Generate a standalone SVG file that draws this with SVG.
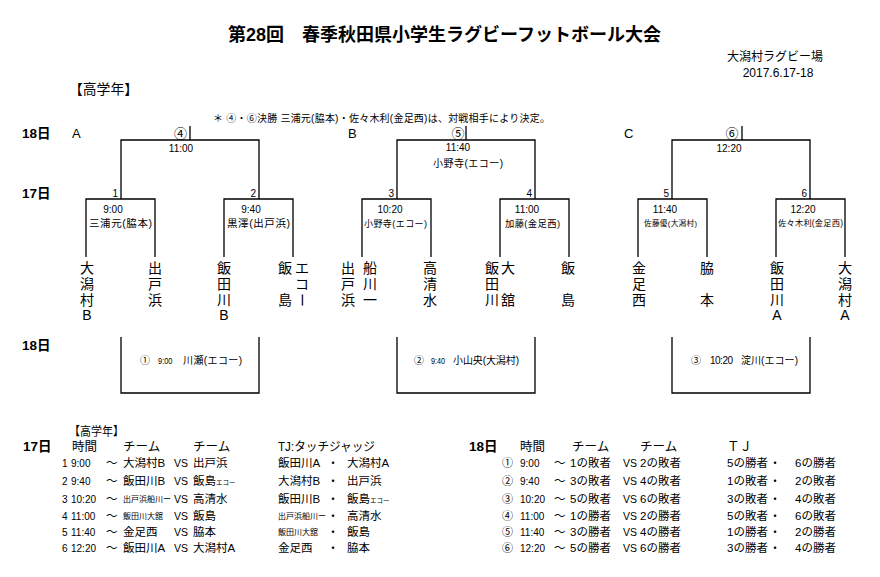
<svg xmlns="http://www.w3.org/2000/svg" width="880" height="577" viewBox="0 0 880 577">
<style>
text{font-family:"Liberation Sans","Noto Sans CJK JP",sans-serif;fill:#000}
.ttl{font-size:18px;font-weight:bold}
.b{font-weight:bold;font-size:13.5px}
.m{font-size:12px}
.s{font-size:10px}
.xs{font-size:8px}
.xxs{font-size:6.5px}
.v{font-size:14px;text-anchor:middle}
.c{text-anchor:middle}
.ln{stroke:#000;stroke-width:1.3;fill:none}
</style>
<rect width="880" height="577" fill="#fff"/>
<g id="header">
<text class="ttl" x="228" y="41">第28回　春季秋田県小学生ラグビーフットボール大会</text>
<text class="m c" x="775" y="60.5">大潟村ラグビー場</text>
<text class="m c" x="778" y="77">2017.6.17-18</text>
<text x="69" y="94" style="font-size:14px" textLength="69" lengthAdjust="spacingAndGlyphs">【高学年】</text>
<text class="s" x="213" y="122" textLength="337" lengthAdjust="spacing">＊ ④・⑥決勝 三浦元(脇本)・佐々木利(金足西)は、対戦相手により決定。</text>
<text class="b" x="22" y="138">18日</text>
<text class="b" x="22" y="198">17日</text>
<text class="b" x="22" y="350">18日</text>
<text class="m" x="72" y="138" style="font-size:13px">A</text>
<text class="m" x="348" y="138" style="font-size:13px">B</text>
<text class="m" x="624" y="138" style="font-size:13px">C</text>
</g>
<g id="connectors" class="ln">
<path d="M190,126V140M121,199V140H259V199M86,257V199H155V257M224,257V199H293V257"/>
<path d="M466,126V140M397,199V140H535V199M362,257V199H431V257M500,257V199H569V257"/>
<path d="M742,126V140M672,199V140H810V199M638,257V199H707V257M776,257V199H845V257"/>
<path d="M121,337V393H259V337"/>
<path d="M397,337V393H535V337"/>
<path d="M672,337V393H810V337"/>
</g>
<g id="final-4">
<text class="c" x="180.5" y="138" style="font-size:13px">④</text>
<text class="s c" x="181" y="152">11:00</text>
</g>
<g id="final-5">
<text class="c" x="458" y="138" style="font-size:13px">⑤</text>
<text class="s c" x="458" y="151">11:40</text>
<text x="433" y="167" style="font-size:10px" textLength="70" lengthAdjust="spacing">小野寺(エコー)</text>
</g>
<g id="final-6">
<text class="c" x="732" y="138" style="font-size:13px">⑥</text>
<text class="s c" x="729" y="152">12:20</text>
</g>
<g id="match-1">
<text class="s" x="118" y="197" text-anchor="end">1</text>
<text class="s c" x="113" y="213">9:00</text>
<text x="89" y="227" style="font-size:10.5px" textLength="63" lengthAdjust="spacing">三浦元(脇本)</text>
</g>
<g id="match-2">
<text class="s" x="256" y="197" text-anchor="end">2</text>
<text class="s c" x="251" y="213">9:40</text>
<text x="227" y="227" style="font-size:10.5px" textLength="63" lengthAdjust="spacing">黒澤(出戸浜)</text>
</g>
<g id="match-3">
<text class="s" x="394" y="197" text-anchor="end">3</text>
<text class="s c" x="390" y="213">10:20</text>
<text x="364" y="226.5" style="font-size:9px" textLength="63" lengthAdjust="spacing">小野寺(エコー)</text>
</g>
<g id="match-4">
<text class="s" x="532" y="197" text-anchor="end">4</text>
<text class="s c" x="527" y="213">11:00</text>
<text x="505" y="226.5" style="font-size:9.3px" textLength="55" lengthAdjust="spacing">加藤(金足西)</text>
</g>
<g id="match-5">
<text class="s" x="669" y="197" text-anchor="end">5</text>
<text class="s c" x="665" y="213">11:40</text>
<text x="644" y="226" style="font-size:7.6px" textLength="53" lengthAdjust="spacing">佐藤優(大潟村)</text>
</g>
<g id="match-6">
<text class="s" x="807" y="197" text-anchor="end">6</text>
<text class="s c" x="803" y="213">12:20</text>
<text x="778" y="226" style="font-size:8.2px" textLength="65" lengthAdjust="spacing">佐々木利(金足西)</text>
</g>
<g id="team-ogatamura-b"><text class="v" x="87" y="273">大</text><text class="v" x="87" y="289">潟</text><text class="v" x="87" y="305">村</text><text class="v" x="87" y="320">B</text></g>
<g id="team-dotohama"><text class="v" x="155" y="273">出</text><text class="v" x="155" y="289">戸</text><text class="v" x="155" y="305">浜</text></g>
<g id="team-iidagawa-b"><text class="v" x="224" y="273">飯</text><text class="v" x="224" y="289">田</text><text class="v" x="224" y="305">川</text><text class="v" x="224" y="320">B</text></g>
<g id="team-iijima-eko"><text class="v" x="285" y="273">飯</text><text class="v" x="285" y="305">島</text><text class="v" x="302" y="273">エ</text><text class="v" x="302" y="289">コ</text><text class="v" x="302" y="305" transform="rotate(90 302 300)">ー</text></g>
<g id="team-dotohama-funakawa"><text class="v" x="348" y="273">出</text><text class="v" x="348" y="289">戸</text><text class="v" x="348" y="305">浜</text><text class="v" x="370" y="273">船</text><text class="v" x="370" y="289">川</text><text class="v" x="370" y="305">一</text></g>
<g id="team-takashimizu"><text class="v" x="430" y="273">高</text><text class="v" x="430" y="289">清</text><text class="v" x="430" y="305">水</text></g>
<g id="team-iidagawa-odate"><text class="v" x="492" y="273">飯</text><text class="v" x="492" y="289">田</text><text class="v" x="492" y="305">川</text><text class="v" x="508" y="273">大</text><text class="v" x="508" y="305">舘</text></g>
<g id="team-iijima"><text class="v" x="568" y="273">飯</text><text class="v" x="568" y="305">島</text></g>
<g id="team-kanaashinishi"><text class="v" x="639" y="273">金</text><text class="v" x="639" y="289">足</text><text class="v" x="639" y="305">西</text></g>
<g id="team-wakimoto"><text class="v" x="707" y="273">脇</text><text class="v" x="707" y="305">本</text></g>
<g id="team-iidagawa-a"><text class="v" x="777" y="273">飯</text><text class="v" x="777" y="289">田</text><text class="v" x="777" y="305">川</text><text class="v" x="777" y="320">A</text></g>
<g id="team-ogatamura-a"><text class="v" x="845" y="273">大</text><text class="v" x="845" y="289">潟</text><text class="v" x="845" y="305">村</text><text class="v" x="845" y="320">A</text></g>
<g id="placement-1" class="s">
<text x="140" y="364">①</text><text x="158" y="363.5" style="font-size:9px" textLength="14.5" lengthAdjust="spacingAndGlyphs">9:00</text><text x="183" y="364" textLength="59" lengthAdjust="spacing">川瀬(エコー)</text>
</g>
<g id="placement-2" class="s">
<text x="414" y="364">②</text><text x="431" y="363.5" style="font-size:9px" textLength="14" lengthAdjust="spacingAndGlyphs">9:40</text><text x="453" y="364" textLength="66" lengthAdjust="spacing">小山央(大潟村)</text>
</g>
<g id="placement-3" class="s">
<text x="691" y="364">③</text><text x="710" y="364" textLength="23" lengthAdjust="spacing">10:20</text><text x="741" y="364" textLength="57" lengthAdjust="spacing">淀川(エコー)</text>
</g>
<g id="table-17" style="font-size:11.5px">
<text x="69" y="436" style="font-size:12px" textLength="55" lengthAdjust="spacingAndGlyphs">【高学年】</text>
<text class="b" x="23" y="451">17日</text>
<text x="72" y="450.5" style="font-size:12.5px">時間</text>
<text x="123" y="450.5" style="font-size:12.5px">チーム</text>
<text x="193" y="450.5" style="font-size:12.5px">チーム</text>
<text x="278" y="450.5" style="font-size:12.5px" textLength="97" lengthAdjust="spacingAndGlyphs">TJ:タッチジャッジ</text>
<g class="s"><text x="62" y="467">1</text><text x="71" y="467">9:00</text><text x="62" y="485">2</text><text x="71" y="485">9:40</text><text x="62" y="503">3</text><text x="71" y="503">10:20</text><text x="62" y="520">4</text><text x="71" y="520">11:00</text><text x="62" y="536">5</text><text x="71" y="536">11:40</text><text x="62" y="552">6</text><text x="71" y="552">12:20</text></g>
<text x="106" y="467">～</text><text x="106" y="485">～</text><text x="106" y="503">～</text><text x="106" y="520">～</text><text x="106" y="536">～</text><text x="106" y="552">～</text>
<g style="font-size:10.5px"><text x="174" y="467">VS</text><text x="174" y="485">VS</text><text x="174" y="503">VS</text><text x="174" y="520">VS</text><text x="174" y="536">VS</text><text x="174" y="552">VS</text></g>
<text x="123" y="467">大潟村B</text>
<text x="123" y="485">飯田川B</text>
<text class="xs" x="123" y="502">出戸浜船川ー</text>
<text class="xs" x="123" y="519">飯田川大舘</text>
<text x="123" y="536">金足西</text>
<text x="123" y="552">飯田川A</text>
<text x="193" y="467">出戸浜</text>
<text x="193" y="485">飯島<tspan class="xxs">エコー</tspan></text>
<text x="193" y="503">高清水</text>
<text x="193" y="520">飯島</text>
<text x="193" y="536">脇本</text>
<text x="193" y="552">大潟村A</text>
<text x="278" y="467">飯田川A</text>
<text x="278" y="485">大潟村B</text>
<text x="278" y="503">飯田川B</text>
<text class="xs" x="278" y="519">出戸浜船川ー</text>
<text class="xs" x="278" y="535">飯田川大舘</text>
<text x="278" y="552">金足西</text>
<text class="c" x="333" y="467">・</text><text class="c" x="333" y="485">・</text><text class="c" x="333" y="503">・</text><text class="c" x="333" y="520">・</text><text class="c" x="333" y="536">・</text><text class="c" x="333" y="552">・</text>
<text x="347" y="467">大潟村A</text>
<text x="347" y="485">出戸浜</text>
<text x="347" y="503">飯島<tspan class="xxs">エコー</tspan></text>
<text x="347" y="520">高清水</text>
<text x="347" y="536">飯島</text>
<text x="347" y="552">脇本</text>
</g>
<g id="table-18" style="font-size:11.5px">
<text class="b" x="469" y="451">18日</text>
<text x="520" y="450.5" style="font-size:12.5px">時間</text>
<text x="572" y="450.5" style="font-size:12.5px">チーム</text>
<text x="640" y="450.5" style="font-size:12.5px">チーム</text>
<text x="727" y="450.5" style="font-size:12.5px">ＴＪ</text>
<g style="font-size:11px"><text x="502" y="467">①</text><text x="502" y="485">②</text><text x="502" y="503">③</text><text x="502" y="520">④</text><text x="502" y="536">⑤</text><text x="502" y="552">⑥</text></g>
<g class="s"><text x="520" y="467">9:00</text><text x="520" y="485">9:40</text><text x="520" y="503">10:20</text><text x="520" y="520">11:00</text><text x="520" y="536">11:40</text><text x="520" y="552">12:20</text></g>
<text x="554" y="467">～</text><text x="554" y="485">～</text><text x="554" y="503">～</text><text x="554" y="520">～</text><text x="554" y="536">～</text><text x="554" y="552">～</text>
<text x="570" y="467">1の敗者</text><text x="570" y="485">3の敗者</text><text x="570" y="503">5の敗者</text><text x="570" y="520">1の勝者</text><text x="570" y="536">3の勝者</text><text x="570" y="552">5の勝者</text>
<g style="font-size:10.5px"><text x="623" y="467">VS</text><text x="623" y="485">VS</text><text x="623" y="503">VS</text><text x="623" y="520">VS</text><text x="623" y="536">VS</text><text x="623" y="552">VS</text></g>
<text x="640" y="467">2の敗者</text><text x="640" y="485">4の敗者</text><text x="640" y="503">6の敗者</text><text x="640" y="520">2の勝者</text><text x="640" y="536">4の勝者</text><text x="640" y="552">6の勝者</text>
<text x="727" y="467">5の勝者</text><text x="727" y="485">1の敗者</text><text x="727" y="503">3の敗者</text><text x="727" y="520">5の敗者</text><text x="727" y="536">1の勝者</text><text x="727" y="552">3の勝者</text>
<text class="c" x="775" y="467">・</text><text class="c" x="775" y="485">・</text><text class="c" x="775" y="503">・</text><text class="c" x="775" y="520">・</text><text class="c" x="775" y="536">・</text><text class="c" x="775" y="552">・</text>
<text x="795" y="467">6の勝者</text><text x="795" y="485">2の敗者</text><text x="795" y="503">4の敗者</text><text x="795" y="520">6の敗者</text><text x="795" y="536">2の勝者</text><text x="795" y="552">4の勝者</text>
</g>
</svg>
